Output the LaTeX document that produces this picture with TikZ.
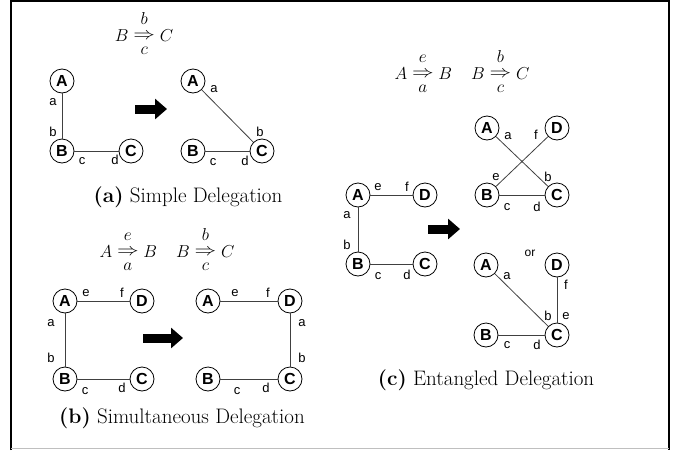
\documentclass[tikz,border=0pt]{standalone}
\usepackage{amsmath}
\usepackage{graphicx}
\usepackage{fontspec}
\newfontfamily\lsans{Liberation Sans}
\usetikzlibrary{arrows.meta}
\newcommand{\dlgarrow}[2]{\mathrel{\hbox{\ooalign{\hfil\raise0.86em\hbox{$#1$}\hfil\cr\raise2pt\hbox{\scalebox{1.25}[1]{$\Rightarrow$}}\cr\hfil\lower0.7em\hbox{$#2$}\hfil\cr}}}}
\begin{document}
\begin{tikzpicture}[x=1pt,y=-1pt,
  vtx/.style={circle,draw,line width=0.8pt,inner sep=0pt,minimum size=24pt,font=\lsans\bfseries\fontsize{16}{16}\selectfont},
  lbl/.style={inner sep=0pt,font=\lsans\fontsize{13}{13}\selectfont},
  edge/.style={line width=0.8pt,draw=black!75},
  bigarrow/.style={line width=9pt,-{Triangle[length=12pt,width=20pt]}},
  eqn/.style={anchor=base,inner sep=0pt,font=\fontsize{19}{21}\selectfont},
  captxt/.style={inner sep=0pt,font=\fontsize{21}{23}\selectfont},
  ortxt/.style={inner sep=0pt,font=\lsans\fontsize{12}{12}\selectfont}]
\useasboundingbox (0,0) rectangle (677,450);
% frame
\draw[line width=1.2pt] (11,450) -- (11,1) -- (669,1) -- (669,450);
\draw[black!25,line width=1pt] (11,448) -- (669,448);

% ---------------- panel (a)
\node[eqn] (eqa) at (144,41) {$B \dlgarrow{b}{c} C$};
\node[vtx] (a1A) at (62,81) {A};
\node[vtx] (a1B) at (62,151) {B};
\node[vtx] (a1C) at (131,151) {C};
\draw[edge] (a1A) -- (a1B);
\draw[edge] (a1B) -- (a1C);
\node[lbl] (a1la) at (53,102) {a};
\node[lbl] (a1lb) at (53,132) {b};
\node[lbl] (a1lc) at (82,161) {c};
\node[lbl] (a1ld) at (115,160) {d};
\coordinate (aar1) at (135,109);
\coordinate (aar2) at (167,109);
\draw[bigarrow] (aar1) -- (aar2);
\node[vtx] (a2A) at (193,81) {A};
\node[vtx] (a2B) at (193,151) {B};
\node[vtx] (a2C) at (262,151) {C};
\draw[edge] (a2A) -- (a2C);
\draw[edge] (a2B) -- (a2C);
\node[lbl] (a2la) at (214,89) {a};
\node[lbl] (a2lb) at (260,132) {b};
\node[lbl] (a2lc) at (213,162) {c};
\node[lbl] (a2ld) at (245,161) {d};
\node[captxt] (capa) at (188,197) {\textbf{(a)} Simple Delegation};

% ---------------- panel (b)
\node[eqn] (eqb) at (167,257) {$A \dlgarrow{e}{a} B \quad B \dlgarrow{b}{c} C$};
\node[vtx] (b1A) at (65,301) {A};
\node[vtx] (b1D) at (142,301) {D};
\node[vtx] (b1B) at (65,379) {B};
\node[vtx] (b1C) at (142,379) {C};
\draw[edge] (b1A) -- (b1D);
\draw[edge] (b1A) -- (b1B);
\draw[edge] (b1B) -- (b1C);
\node[lbl] (b1le) at (86,293) {e};
\node[lbl] (b1lf) at (122,293) {f};
\node[lbl] (b1la) at (51,323) {a};
\node[lbl] (b1lb) at (51,358) {b};
\node[lbl] (b1lc) at (85,391) {c};
\node[lbl] (b1ld) at (122,388) {d};
\coordinate (bar1) at (143,338);
\coordinate (bar2) at (183,338);
\draw[bigarrow] (bar1) -- (bar2);
\node[vtx] (b2A) at (208,301) {A};
\node[vtx] (b2D) at (290,301) {D};
\node[vtx] (b2B) at (208,379) {B};
\node[vtx] (b2C) at (290,379) {C};
\draw[edge] (b2A) -- (b2D);
\draw[edge] (b2D) -- (b2C);
\draw[edge] (b2B) -- (b2C);
\node[lbl] (b2le) at (235,293) {e};
\node[lbl] (b2lf) at (268,293) {f};
\node[lbl] (b2la) at (302,323) {a};
\node[lbl] (b2lb) at (302,358) {b};
\node[lbl] (b2lc) at (237,391) {c};
\node[lbl] (b2ld) at (266,388) {d};
\node[captxt] (capb) at (182,418) {\textbf{(b)} Simultaneous Delegation};

% ---------------- panel (c)
\node[eqn] (eqc) at (462,79) {$A \dlgarrow{e}{a} B \quad B \dlgarrow{b}{c} C$};
\node[vtx] (c1A) at (358,195) {A};
\node[vtx] (c1D) at (425,195) {D};
\node[vtx] (c1B) at (358,264) {B};
\node[vtx] (c1C) at (425,264) {C};
\draw[edge] (c1A) -- (c1D);
\draw[edge] (c1A) -- (c1B);
\draw[edge] (c1B) -- (c1C);
\node[lbl] (c1le) at (378,187) {e};
\node[lbl] (c1lf) at (407,187) {f};
\node[lbl] (c1la) at (347,215) {a};
\node[lbl] (c1lb) at (347,245) {b};
\node[lbl] (c1lc) at (378,276) {c};
\node[lbl] (c1ld) at (407,275) {d};
\coordinate (car1) at (428,229);
\coordinate (car2) at (460,229);
\draw[bigarrow] (car1) -- (car2);
% top result
\node[vtx] (c2A) at (487,128) {A};
\node[vtx] (c2D) at (557,128) {D};
\node[vtx] (c2B) at (487,195) {B};
\node[vtx] (c2C) at (557,195) {C};
\draw[edge] (c2A) -- (c2C);
\draw[edge] (c2D) -- (c2B);
\draw[edge] (c2B) -- (c2C);
\node[lbl] (c2la) at (508,136) {a};
\node[lbl] (c2lf) at (536,135) {f};
\node[lbl] (c2le) at (496,177) {e};
\node[lbl] (c2lb) at (548,177) {b};
\node[lbl] (c2lc) at (507,207) {c};
\node[lbl] (c2ld) at (537,207) {d};
\node[ortxt] (cor) at (530,253) {or};
% bottom result
\node[vtx] (c3A) at (486,265) {A};
\node[vtx] (c3D) at (557,265) {D};
\node[vtx] (c3B) at (486,335) {B};
\node[vtx] (c3C) at (557,335) {C};
\draw[edge] (c3A) -- (c3C);
\draw[edge] (c3D) -- (c3C);
\draw[edge] (c3B) -- (c3C);
\node[lbl] (c3la) at (507,276) {a};
\node[lbl] (c3lf) at (566,285) {f};
\node[lbl] (c3lb) at (548,316) {b};
\node[lbl] (c3le) at (566,316) {e};
\node[lbl] (c3lc) at (507,345) {c};
\node[lbl] (c3ld) at (537,345) {d};
\node[captxt] (capc) at (486,380) {\textbf{(c)} Entangled Delegation};
\end{tikzpicture}
\end{document}
